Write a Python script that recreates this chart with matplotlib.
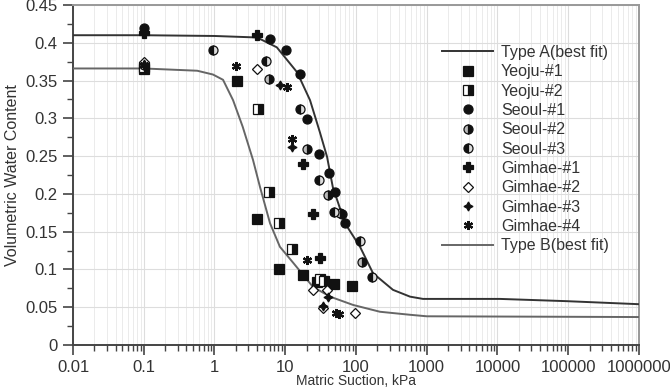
import matplotlib.pyplot as plt
from matplotlib.ticker import LogLocator, MultipleLocator, FixedLocator, NullFormatter

plt.rcParams["font.family"] = ["Liberation Sans", "DejaVu Sans"]

# fitted curves
type_a_x = [0.01, 0.1, 1, 4.0, 7.6, 14.7, 22.4, 31, 39, 47, 70, 114, 174, 333, 580,
            885, 10800, 96000, 1000000]
type_a_y = [0.41, 0.41, 0.409, 0.407, 0.394, 0.361, 0.324, 0.281, 0.249, 0.209, 0.161,
            0.130, 0.095, 0.073, 0.064, 0.061, 0.061, 0.058, 0.054]

type_b_x = [0.01, 0.1, 0.57, 0.95, 1.32, 1.83, 2.5, 3.5, 4.4, 6.1, 8.4, 12.9, 24.6,
            43, 91, 218, 580, 1000, 1000000]
type_b_y = [0.366, 0.366, 0.363, 0.358, 0.351, 0.324, 0.289, 0.245, 0.209, 0.161,
            0.130, 0.109, 0.077, 0.064, 0.053, 0.044, 0.040, 0.038, 0.037]

# measured points
yeoju1_x = [0.1, 2.06, 4.03, 8.07, 18, 28.4, 48.9, 88.7]
yeoju1_y = [0.365, 0.349, 0.167, 0.100, 0.093, 0.084, 0.081, 0.078]

yeoju2_x = [0.1, 4.16, 5.96, 8.07, 12.3, 31, 35]
yeoju2_y = [0.368, 0.312, 0.203, 0.161, 0.127, 0.088, 0.085]

seoul1_x = [0.1, 6.0, 10.3, 16.2, 20.5, 30.3, 41.5, 50.5, 63, 70]
seoul1_y = [0.42, 0.405, 0.39, 0.359, 0.299, 0.253, 0.228, 0.203, 0.174, 0.161]

seoul2_x = [0.1, 5.95, 20.1, 40.6, 60, 120]
seoul2_y = [0.37, 0.352, 0.259, 0.199, 0.175, 0.110]

seoul3_x = [0.95, 5.35, 16.2, 30.3, 48.9, 114, 167]
seoul3_y = [0.390, 0.376, 0.312, 0.218, 0.176, 0.137, 0.090]

gimhae1_x = [0.1, 4.03, 18, 24.4, 31]
gimhae1_y = [0.413, 0.410, 0.240, 0.173, 0.115]

gimhae2_x = [0.1, 4.03, 24.6, 38.5, 34.5, 97]
gimhae2_y = [0.375, 0.365, 0.073, 0.073, 0.049, 0.042]

gimhae3_x = [0.1, 8.4, 12.3, 34.5, 40.6]
gimhae3_y = [0.372, 0.344, 0.262, 0.051, 0.064]

gimhae4_x = [0.1, 2.03, 10.5, 12.3, 20.1, 53, 57]
gimhae4_y = [0.37, 0.369, 0.341, 0.272, 0.113, 0.042, 0.041]

fig = plt.figure(figsize=(6.7, 3.89), dpi=100)
ax = fig.add_axes([73 / 670, 1 - 345 / 389, (639 - 73) / 670, 340 / 389])

ax.plot(type_a_x, type_a_y, color="#333333", lw=1.4, label="Type A(best fit)", zorder=3)

mk = dict(ls="none", color="#111111", ms=6.5, mew=0.9, zorder=4)
ax.plot(yeoju1_x, yeoju1_y, marker="s", label="Yeoju-#1", **mk)
ax.plot(yeoju2_x, yeoju2_y, marker="s", fillstyle="right", markerfacecoloralt="white",
        label="Yeoju-#2", **mk)
ax.plot(seoul1_x, seoul1_y, marker="o", label="Seoul-#1", **mk)
ax.plot(seoul2_x, seoul2_y, marker="o", fillstyle="right", markerfacecoloralt="#bbbbbb",
        label="Seoul-#2", **mk)
ax.plot(seoul3_x, seoul3_y, marker="o", fillstyle="left", markerfacecoloralt="#dddddd",
        label="Seoul-#3", **mk)
ax.plot(gimhae1_x, gimhae1_y, marker="P", label="Gimhae-#1", **mk)
ax.plot(gimhae2_x, gimhae2_y, marker="D", mfc="white", label="Gimhae-#2",
        **{**mk, "ms": 5})
ax.plot(gimhae3_x, gimhae3_y, marker=(4, 1, 0), label="Gimhae-#3", **mk)
ax.plot(gimhae4_x, gimhae4_y, marker=(6, 2, 0), label="Gimhae-#4", **{**mk, "mew": 1.6})

ax.plot(type_b_x, type_b_y, color="#666666", lw=1.4, label="Type B(best fit)", zorder=3)

ax.set_xscale("log")
ax.set_xlim(0.01, 1000000)
ax.set_ylim(0, 0.45)

xticks = [0.01, 0.1, 1, 10, 100, 1000, 10000, 100000, 1000000]
xlabels = ["0.01", "0.1", "1", "10", "100", "1000", "10000", "100000", "1000000"]
ax.xaxis.set_major_locator(FixedLocator(xticks))
ax.set_xticklabels(xlabels)
ax.xaxis.set_minor_locator(LogLocator(base=10, subs=range(2, 10), numticks=20))
ax.xaxis.set_minor_formatter(NullFormatter())
ax.set_yticks([0, 0.05, 0.1, 0.15, 0.2, 0.25, 0.3, 0.35, 0.4, 0.45])
ax.set_yticklabels(["0", "0.05", "0.1", "0.15", "0.2", "0.25", "0.3", "0.35", "0.4", "0.45"])
ax.yaxis.set_minor_locator(MultipleLocator(0.025))

ax.grid(which="major", color="#dddddd", lw=0.8)
ax.grid(which="minor", axis="x", color="#e8e8e8", lw=0.6)
ax.set_axisbelow(True)

ax.tick_params(which="major", direction="out", length=7, width=1.2, color="#444444",
               labelsize=12, labelcolor="#333333")
ax.tick_params(which="minor", direction="out", length=4, width=1.0, color="#444444")
ax.tick_params(axis="x", which="major", pad=4)
ax.tick_params(axis="y", which="major", pad=4)
for side in ("left", "bottom"):
    ax.spines[side].set_color("#444444")
    ax.spines[side].set_linewidth(1.4)
for side in ("top", "right"):
    ax.spines[side].set_color("#999999")
    ax.spines[side].set_linewidth(1.4)

ax.set_ylabel("Volumetric Water Content", fontsize=11.5, color="#333333", labelpad=4)
ax.set_xlabel("Matric Suction, kPa", fontsize=10, color="#333333", labelpad=-1)

leg = ax.legend(loc="upper left", bbox_to_anchor=(442 / 670, 1 - 45 / 389),
                bbox_transform=fig.transFigure, frameon=False, fontsize=11.5,
                handlelength=3.2, handletextpad=0.5, labelspacing=0.27,
                borderpad=0, borderaxespad=0, numpoints=1, labelcolor="#333333")

fig.savefig("out.png", dpi=100)
